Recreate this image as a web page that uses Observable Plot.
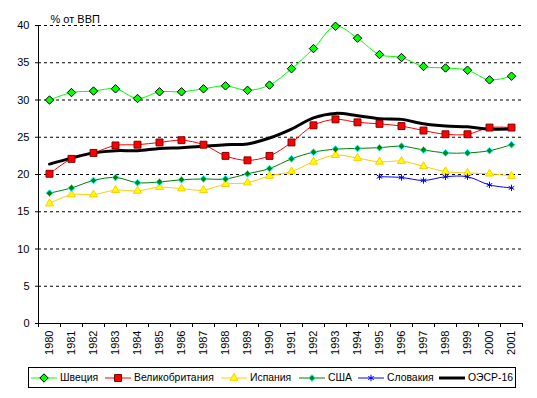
<!DOCTYPE html>
<html><head><meta charset="utf-8">
<script src="https://cdn.jsdelivr.net/npm/d3@7"></script>
<script src="https://cdn.jsdelivr.net/npm/@observablehq/plot@0.6"></script>
<style>
body{margin:0;background:#fff;font-family:Arial,"Liberation Sans",sans-serif;}
#wrap{position:relative;width:537px;height:398px;background:#fff;}
#legend{position:absolute;left:28px;top:367px;width:488px;height:21px;box-sizing:border-box;border:1px solid #000;font-size:10.4px;color:#000;white-space:nowrap;}
#legend .item{position:absolute;top:0;height:19px;display:flex;align-items:center;}
#legend svg{display:block;margin-right:3px;}
</style>
</head><body>
<div id="wrap"><div id="chart"></div><div id="legend"></div></div>
<script>
const years = [1980,1981,1982,1983,1984,1985,1986,1987,1988,1989,1990,1991,1992,1993,1994,1995,1996,1997,1998,1999,2000,2001];
const sweden = [30.0,31.0,31.2,31.5,30.2,31.1,31.1,31.5,31.9,31.3,32.0,34.2,36.9,39.9,38.3,36.1,35.7,34.5,34.3,34.0,32.7,33.2];
const uk     = [20.1,22.1,22.9,23.9,24.0,24.3,24.6,24.0,22.5,21.9,22.5,24.3,26.6,27.4,27.0,26.8,26.5,25.9,25.4,25.4,26.3,26.3];
const spain  = [16.1,17.3,17.3,17.9,17.8,18.3,18.1,17.9,18.7,18.9,19.8,20.4,21.7,22.6,22.2,21.7,21.8,21.1,20.4,20.2,20.1,19.8];
const usa    = [17.5,18.2,19.2,19.6,18.9,19.0,19.3,19.4,19.4,20.1,20.8,22.1,23.0,23.4,23.5,23.6,23.8,23.3,22.9,22.9,23.2,24.0];
const slovakiaYears = [1995,1996,1997,1998,1999,2000,2001];
const slovakia = [19.7,19.6,19.2,19.7,19.7,18.6,18.2];
const oecd   = [21.4,22.2,22.9,23.2,23.2,23.5,23.6,23.8,24.0,24.1,24.9,26.1,27.6,28.2,27.9,27.5,27.4,26.8,26.5,26.4,26.1,26.1];
const yTicks = [0,5,10,15,20,25,30,35,40];
const yLabel = "% от ВВП";

const seriesDefs = [
  {name:"Швеция", years:years, values:sweden, stroke:"#00FF00", width:1, symbol:"diamond2", r:3.8, fill:"#00FF00", mstroke:"#000000"},
  {name:"Великобритания", years:years, values:uk, stroke:"#FF0000", width:1, symbol:"square2", r:4.4, fill:"#FF0000", mstroke:"#800000"},
  {name:"Испания", years:years, values:spain, stroke:"#FFCC00", width:1, symbol:"triangle2", r:3.8, fill:"#FFFF00", mstroke:"#FFCC00"},
  {name:"США", years:years, values:usa, stroke:"#008000", width:1, symbol:"diamond2", r:3.0, fill:"#008000", mstroke:"#00FFFF"},
  {name:"Словакия", years:slovakiaYears, values:slovakia, stroke:"#0000FF", width:1, symbol:"asterisk", r:3.0, fill:"none", mstroke:"#0000FF"},
  {name:"ОЭСР-16", years:years, values:oecd, stroke:"#000000", width:3, symbol:null}
];
// legend item left offsets (layout only)
const legendOffsets = [2, 76, 192, 270, 329, 410];

const rows = seriesDefs.flatMap(s => s.years.map((year, i) => ({series: s.name, year, value: s.values[i]})));
const bounds = years.map(y => y - 0.5).concat([years[years.length - 1] + 0.5]);

const chart = Plot.plot({
  width: 537, height: 362,
  marginLeft: 38, marginRight: 15, marginTop: 25, marginBottom: 39,
  style: {fontFamily: "Arial, 'Liberation Sans', sans-serif", fontSize: "11px", color: "#000", background: "#fff"},
  x: {type: "linear", domain: [bounds[0], bounds[bounds.length - 1]]},
  y: {domain: [0, 40]},
  marks: [
    Plot.gridY(yTicks.filter(v => v > 0), {stroke: "#000", strokeOpacity: 1, strokeDasharray: "3,3"}),
    Plot.frame({anchor: "left"}),
    Plot.frame({anchor: "bottom"}),
    Plot.axisY(yTicks, {tickSize: 3, tickPadding: 6, label: null}),
    Plot.axisX(bounds, {tickSize: 4, text: null, label: null}),
    Plot.axisX(years, {tickSize: 0, tickPadding: 7, tickRotate: -90, tickFormat: d => String(d), label: null}),
    Plot.text([yLabel], {frameAnchor: "top-left", dx: 12, dy: -3, lineAnchor: "bottom", textAnchor: "start", fontSize: 11}),
    ...seriesDefs.map(s => Plot.line(rows.filter(d => d.series === s.name), {x: "year", y: "value", stroke: s.stroke, strokeWidth: s.width, curve: "catmull-rom"})),
    ...seriesDefs.filter(s => s.symbol).map(s => Plot.dot(rows.filter(d => d.series === s.name), {x: "year", y: "value", symbol: s.symbol, r: s.r, fill: s.fill, stroke: s.mstroke, strokeWidth: 1}))
  ]
});
document.getElementById("chart").appendChild(chart);

// legend
const legend = d3.select("#legend");
const symbolMap = {diamond2: d3.symbolDiamond2, square2: d3.symbolSquare2, triangle2: d3.symbolTriangle2, asterisk: d3.symbolAsterisk};
seriesDefs.forEach((s, i) => {
  const item = legend.append("div").attr("class", "item").style("left", legendOffsets[i] + "px");
  const svg = item.append("svg").attr("width", 26).attr("height", 12);
  svg.append("line").attr("x1", 0).attr("x2", 26).attr("y1", 6).attr("y2", 6)
    .attr("stroke", s.stroke).attr("stroke-width", s.width);
  if (s.symbol) {
    svg.append("path").attr("transform", "translate(13,6)")
      .attr("d", d3.symbol(symbolMap[s.symbol], Math.PI * s.r * s.r)())
      .attr("fill", s.fill).attr("stroke", s.mstroke).attr("stroke-width", 1);
  }
  item.append("span").text(s.name);
});
</script>
</body></html>
